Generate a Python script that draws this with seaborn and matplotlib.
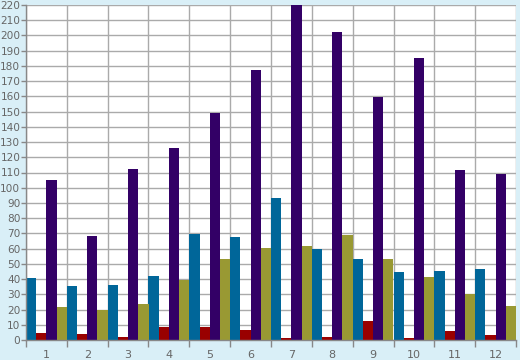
import matplotlib
matplotlib.use("Agg")
import matplotlib.pyplot as plt
import seaborn as sns
import pandas as pd
import numpy as np

categories = ["1", "2", "3", "4", "5", "6", "7", "8", "9", "10", "11", "12"]
series_names = ["A", "B", "C", "D"]
teal = [40.7, 35.5, 36.1, 42.0, 69.6, 67.6, 93.0, 59.8, 53.2, 44.6, 45.3, 46.6]
red = [4.6, 3.9, 2.0, 8.5, 8.5, 6.6, 1.5, 2.0, 12.5, 1.5, 5.9, 3.3]
purple = [105, 68.3, 112.3, 126, 149, 177, 225, 202, 159.5, 185, 111.6, 109]
olive = [21.7, 19.7, 23.6, 39.4, 53.2, 60.4, 61.7, 69, 53.2, 41.4, 30.2, 22.3]
yticks = list(range(0, 221, 10))

colors = ["#006699", "#990000", "#330066", "#999933"]

rows = []
for name, vals in zip(series_names, [teal, red, purple, olive]):
    for c, v in zip(categories, vals):
        rows.append({"cat": c, "series": name, "value": v})
df = pd.DataFrame(rows)

bg = "#d9eff7"
fig = plt.figure(figsize=(5.2, 3.6), dpi=100, facecolor=bg)
ax = fig.add_axes([26/520, 20/360, 490/520, 335/360])
ax.set_facecolor("white")

sns.barplot(data=df, x="cat", y="value", hue="series", order=categories,
            hue_order=series_names, palette=colors, width=1.0, dodge=True,
            saturation=1, ax=ax, legend=False, edgecolor="none", linewidth=0,
            errorbar=None)

ax.set_xlim(-0.5, 11.5)
ax.set_ylim(0, 220)
ax.set_yticks(yticks)
ax.set_yticklabels([str(t) for t in yticks])
ax.set_xticks(np.arange(-0.5, 12, 1.0))
ax.set_xticklabels([])
ax.set_xticks(np.arange(0, 12), minor=True)
ax.set_xticklabels(categories, minor=True)
ax.tick_params(axis="x", which="major", length=5, color="#888888", direction="out", width=1)
ax.tick_params(axis="x", which="minor", length=0, pad=7, labelsize=8, labelcolor="#666666")
ax.tick_params(axis="y", length=3.5, color="#888888", width=1, pad=0.5, labelsize=7.6, labelcolor="#666666")
ax.set_xlabel("")
ax.set_ylabel("")
ax.grid(True, which="major", color="#aaaaaa", linewidth=1)
ax.set_axisbelow(True)
for s in ["top", "right"]:
    ax.spines[s].set_visible(False)
for s in ["left", "bottom"]:
    ax.spines[s].set_color("#888888")
    ax.spines[s].set_linewidth(1)

fig.savefig("out.png", dpi=100, facecolor=bg)
